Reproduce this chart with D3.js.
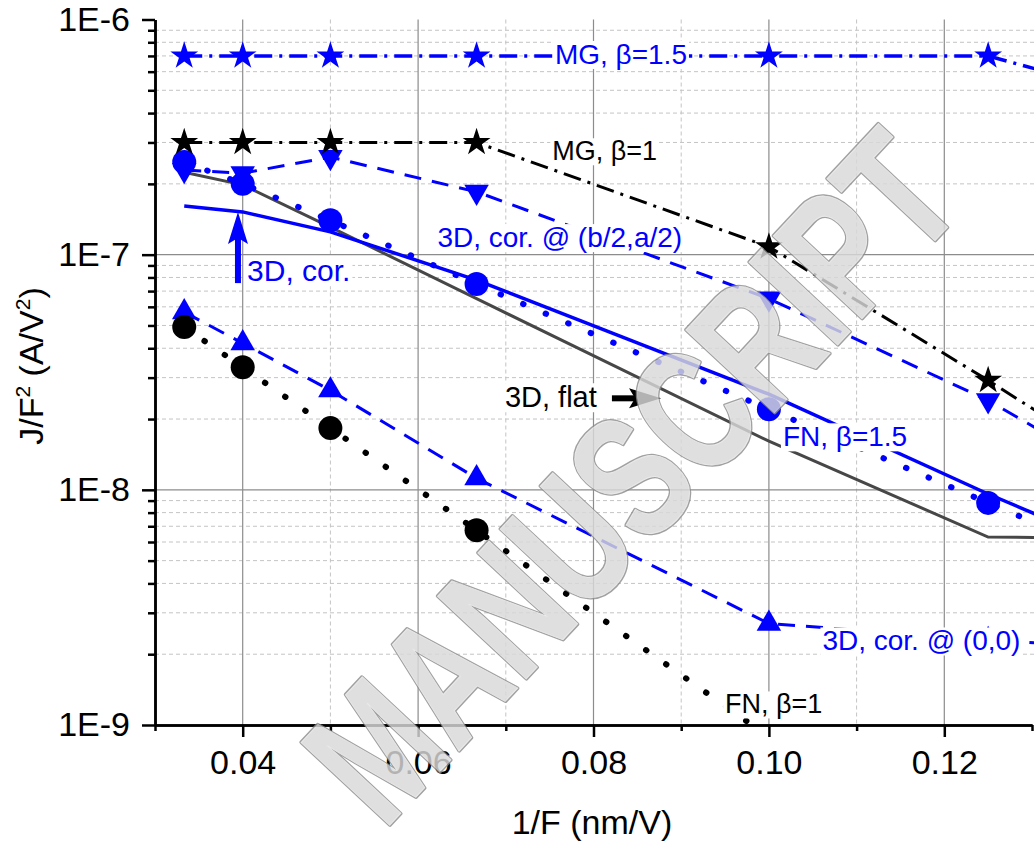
<!DOCTYPE html>
<html>
<head>
<meta charset="utf-8">
<script src="https://cdn.jsdelivr.net/npm/d3@7"></script>
<style>
	html, body { margin: 0; padding: 0; background: #fff; }
	svg { display: block; font-family: 'Liberation Sans', Arial, sans-serif; }
</style>
</head>
<body>
<svg id="chart" width="1034" height="851"></svg>
<script>
// 1/F values (nm/V) at which every curve was computed
const invF = [1 / 30, 0.04, 0.05, 1 / 15, 0.10, 0.125, 1 / 7];

// J/F^2 (A/V^2)
const mgBeta15 = [7.0e-7, 7.0e-7, 7.0e-7, 7.0e-7, 7.0e-7, 7.0e-7, 4.6e-7];
const mgBeta1 = [3.0e-7, 3.0e-7, 3.0e-7, 3.0e-7, 1.08e-7, 2.92e-8, 1.1e-8];
const corMid = [2.29e-7, 2.22e-7, 2.6e-7, 1.85e-7, 6.5e-8, 2.4e-8, 9.9e-9];
const cor3D = [1.61e-7, 1.52e-7, 1.25e-7, 7.8e-8, 2.55e-8, 9.6e-9, 5.0e-9];
const fnBeta15 = [2.48e-7, 2.0e-7, 1.4e-7, 7.5e-8, 2.2e-8, 8.8e-9, 4.6e-9];
const flat3D = [2.24e-7, 1.98e-7, 1.31e-7, 6.5e-8, 1.61e-8, 6.3e-9, 6.2e-9];
const corOrigin = [5.7e-8, 4.2e-8, 2.65e-8, 1.12e-8, 2.7e-9, 2.3e-9, 2.1e-9];
const fnBeta1 = [4.92e-8, 3.32e-8, 1.83e-8, 6.73e-9, 8.9e-10, null, null];

const xMajorTicks = [0.04, 0.06, 0.08, 0.10, 0.12];
const xMinorTicks = [0.03, 0.05, 0.07, 0.09, 0.11, 0.13];
const yMajorTicks = [1e-9, 1e-8, 1e-7, 1e-6];

// curve labels: [text, 1/F, J/F^2 at baseline, colour, font size]
const labels = [
	['MG, β=1.5', 0.0756, 6.47e-7, '#0000ff', 28],
	['MG, β=1', 0.0753, 2.52e-7, '#000', 27],
	['3D, cor. @ (b/2,a/2)', 0.0622, 1.077e-7, '#0000ff', 28],
	['3D, cor.', 0.0405, 7.71e-8, '#0000ff', 30],
	['3D, flat', 0.0699, 2.245e-8, '#000', 29],
	['FN, β=1.5', 0.1016, 1.531e-8, '#0000ff', 28],
	['3D, cor. @ (0,0)', 0.1061, 2.075e-9, '#0000ff', 28],
	['FN, β=1', 0.0950, 1.12e-9, '#000', 27]
];

// annotation arrows: [from x, from y, tip x, tip y, colour]
const arrows = [
	[0.03946, 7.57e-8, 0.03946, 1.52e-7, '#0000ff'],
	[0.0821, 2.45e-8, 0.0877, 2.45e-8, '#000']
];

const blue = '#0000ff';
const dashDot = '18,7,3,7';
const dashed = '17,11';
const dotted = '0.5,24';

const series = [
	{ values: flat3D, color: '#474747', width: 3, dash: null, symbol: null },
	{ values: cor3D, color: blue, width: 3.5, dash: null, symbol: null },
	{ values: fnBeta15, color: blue, width: 6, dash: dotted, symbol: 'circle' },
	{ values: corMid, color: blue, width: 3, dash: dashed, symbol: 'down' },
	{ values: corOrigin, color: blue, width: 3, dash: dashed, symbol: 'up' },
	{ values: fnBeta1, color: '#000', width: 6, dash: dotted, symbol: 'circle' },
	{ values: mgBeta1, color: '#000', width: 3, dash: dashDot, symbol: 'star' },
	{ values: mgBeta15, color: blue, width: 3.5, dash: dashDot, symbol: 'star' }
];

const W = 1034;
const H = 851;
const plotLeft = 155;
const plotRight = 1032;
const plotTop = 19.5;
const plotBottom = 725;

const svg = d3.select('#chart');

const x = d3.scaleLinear().domain([0.03, 0.13]).range([plotLeft, plotRight]);
const y = d3.scaleLog().domain([1e-9, 1e-6]).range([plotBottom, plotTop]);

const yMinorTicks = [];
[1e-9, 1e-8, 1e-7].forEach(d => {
	for (let k = 2; k <= 9; k++) yMinorTicks.push(k * d);
});

svg.append('rect').attr('width', W).attr('height', H).attr('fill', '#fff');

svg.append('defs')
	.append('clipPath')
	.attr('id', 'plot-clip')
	.append('rect')
	.attr('x', plotLeft)
	.attr('y', plotTop - 15)
	.attr('width', W - plotLeft)
	.attr('height', plotBottom - plotTop + 15);

// grid
const grid = svg.append('g');

grid.selectAll('.vminor')
	.data(xMinorTicks.slice(1, -1))
	.enter()
	.append('line')
	.attr('x1', d => x(d))
	.attr('x2', d => x(d))
	.attr('y1', plotTop)
	.attr('y2', plotBottom)
	.attr('stroke', '#c4c4c4')
	.attr('stroke-width', 1)
	.attr('stroke-dasharray', '4,3');

grid.selectAll('.hminor')
	.data(yMinorTicks)
	.enter()
	.append('line')
	.attr('x1', plotLeft)
	.attr('x2', W)
	.attr('y1', d => y(d))
	.attr('y2', d => y(d))
	.attr('stroke', '#c4c4c4')
	.attr('stroke-width', 1)
	.attr('stroke-dasharray', '4,3');

grid.selectAll('.vmajor')
	.data(xMajorTicks)
	.enter()
	.append('line')
	.attr('x1', d => x(d))
	.attr('x2', d => x(d))
	.attr('y1', plotTop)
	.attr('y2', plotBottom)
	.attr('stroke', '#8c8c8c')
	.attr('stroke-width', 1.2);

grid.selectAll('.hmajor')
	.data([1e-8, 1e-7])
	.enter()
	.append('line')
	.attr('x1', plotLeft)
	.attr('x2', W)
	.attr('y1', d => y(d))
	.attr('y2', d => y(d))
	.attr('stroke', '#8c8c8c')
	.attr('stroke-width', 1.2);

// curves
const plot = svg.append('g').attr('clip-path', 'url(#plot-clip)');

const line = d3.line()
	.defined(d => d[1] !== null)
	.x(d => x(d[0]))
	.y(d => y(d[1]));

series.forEach(s => {
	const pts = invF.map((f, i) => [f, s.values[i]]);

	plot.append('path')
		.datum(pts)
		.attr('d', line)
		.attr('fill', 'none')
		.attr('stroke', s.color)
		.attr('stroke-width', s.width)
		.attr('stroke-dasharray', s.dash)
		.attr('stroke-linecap', s.dash === dotted ? 'round' : 'butt');
});

const symbolPath = {
	circle: d3.symbol(d3.symbolCircle, Math.PI * 12 * 12)(),
	up: d3.symbol(d3.symbolTriangle, 260)(),
	down: d3.symbol(d3.symbolTriangle, 260)(),
	star: d3.symbol(d3.symbolStar, 240)()
};

series.filter(s => s.symbol).forEach(s => {
	const pts = invF.map((f, i) => [f, s.values[i]]).filter(d => d[1] !== null);

	plot.append('g')
		.selectAll('path')
		.data(pts)
		.enter()
		.append('path')
		.attr('d', symbolPath[s.symbol])
		.attr('transform', d => `translate(${x(d[0])},${y(d[1])})` + (s.symbol === 'down' ? ' rotate(180)' : ''))
		.attr('fill', s.color);
});

// axes
const axisStyle = g => {
	g.select('.domain').attr('stroke', '#000').attr('stroke-width', 2.5);
	g.selectAll('.tick line').attr('stroke', '#000').attr('stroke-width', 2.5);
	g.selectAll('.tick text')
		.attr('fill', '#000')
		.attr('font-size', 34)
		.attr('font-family', "'Liberation Sans', Arial, sans-serif");
};

svg.append('g')
	.attr('transform', `translate(0,${plotBottom})`)
	.call(d3.axisBottom(x).tickValues(xMinorTicks).tickSize(6).tickSizeOuter(0).tickFormat(''))
	.call(axisStyle);

svg.append('g')
	.attr('transform', `translate(0,${plotBottom})`)
	.call(d3.axisBottom(x).tickValues(xMajorTicks).tickSize(12).tickSizeOuter(0).tickPadding(13).tickFormat(d3.format('.2f')))
	.call(axisStyle);

svg.append('g')
	.attr('transform', `translate(${plotLeft},0)`)
	.call(d3.axisLeft(y).tickValues(yMinorTicks).tickSize(7).tickSizeOuter(0).tickFormat(''))
	.call(axisStyle);

svg.append('g')
	.attr('transform', `translate(${plotLeft},0)`)
	.call(d3.axisLeft(y).tickValues(yMajorTicks).tickSize(13).tickSizeOuter(0).tickPadding(12).tickFormat(d => '1E' + Math.round(Math.log10(d))))
	.call(axisStyle);

svg.append('text')
	.attr('x', 592)
	.attr('y', 834)
	.attr('text-anchor', 'middle')
	.attr('font-size', 34)
	.text('1/F (nm/V)');

const yTitle = svg.append('text')
	.attr('transform', 'translate(43,366) rotate(-90)')
	.attr('text-anchor', 'middle')
	.attr('font-size', 34);

yTitle.append('tspan').text('J/F');
yTitle.append('tspan').attr('font-size', 21).attr('dy', -13).text('2');
yTitle.append('tspan').attr('dy', 13).text(' (A/V');
yTitle.append('tspan').attr('font-size', 21).attr('dy', -13).text('2');
yTitle.append('tspan').attr('dy', 13).text(')');

// annotation arrows
arrows.forEach(([x0, y0, x1, y1, color]) => {
	const ax = x(x0), ay = y(y0), bx = x(x1), by = y(y1);
	const len = Math.hypot(bx - ax, by - ay);
	const ang = Math.atan2(by - ay, bx - ax) * 180 / Math.PI;
	const g = svg.append('g').attr('transform', `translate(${ax},${ay}) rotate(${ang})`);

	g.append('line')
		.attr('x1', 0)
		.attr('x2', len - 20)
		.attr('stroke', color)
		.attr('stroke-width', 6);

	g.append('path')
		.attr('d', `M${len},0 L${len - 32},-10 L${len - 26},0 L${len - 32},10 Z`)
		.attr('fill', color);
});

// curve labels on white
labels.forEach(([text, lx, ly, color, size]) => {
	const g = svg.append('g');
	const t = g.append('text')
		.attr('x', x(lx))
		.attr('y', y(ly))
		.attr('font-size', size)
		.attr('fill', color)
		.text(text);
	const b = t.node().getBBox();

	g.insert('rect', 'text')
		.attr('x', b.x - 2)
		.attr('y', b.y + 2)
		.attr('width', b.width + 4)
		.attr('height', b.height - 3)
		.attr('fill', '#fff');
});

// watermark, drawn as grey tubes over the plot
const mark = svg.append('g')
	.attr('transform', 'translate(968,205) rotate(-47) scale(0.73,1)')
	.attr('font-size', 176)
	.attr('font-weight', 'bold')
	.attr('text-anchor', 'end')
	.attr('opacity', 0.82);

mark.append('text')
	.attr('fill', '#8d8d8d')
	.attr('stroke', '#8d8d8d')
	.attr('stroke-width', 4)
	.attr('stroke-linejoin', 'round')
	.text('MANUSCRIPT');

mark.append('text')
	.attr('fill', '#d9d9d9')
	.attr('stroke', '#e6e6e6')
	.attr('stroke-width', 1)
	.text('MANUSCRIPT');
</script>
</body>
</html>
